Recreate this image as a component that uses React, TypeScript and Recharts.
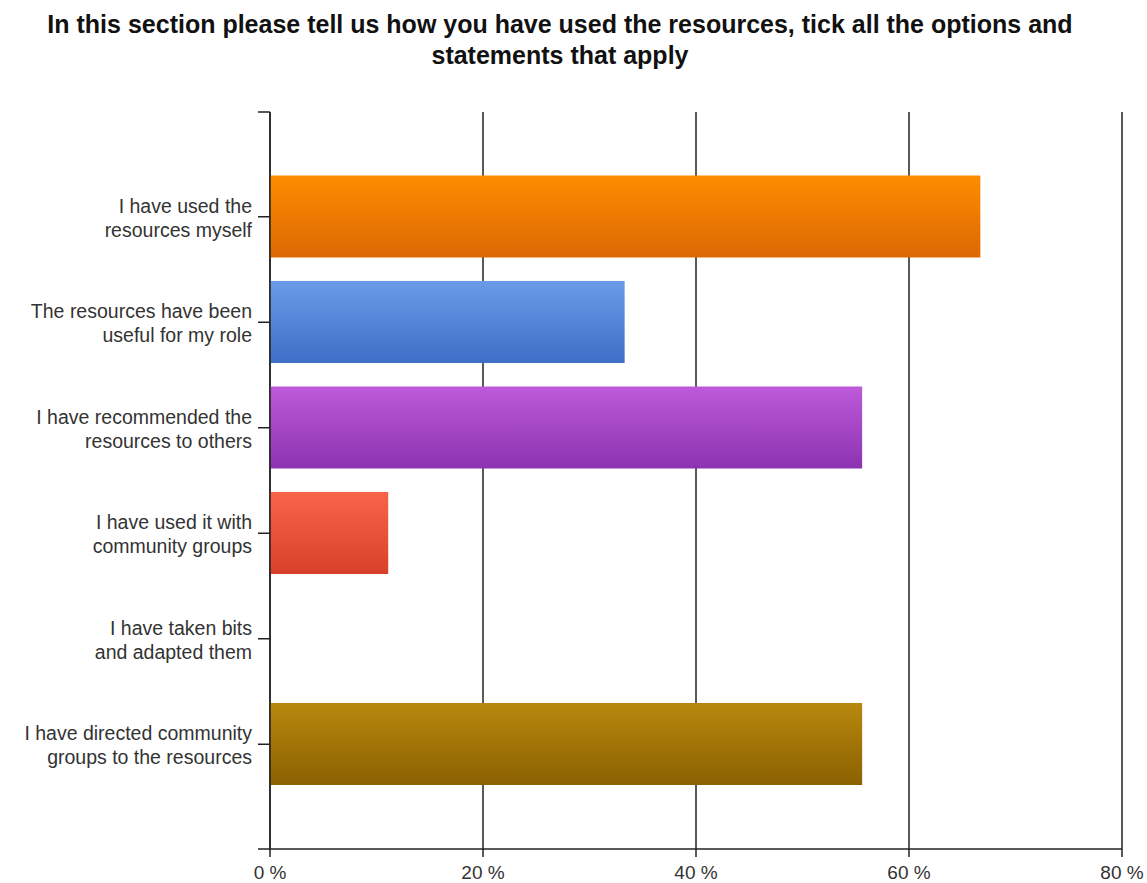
import React from "react";
import * as R from "recharts";
import { BarChart, Bar, XAxis, YAxis, CartesianGrid, Cell } from "recharts";

const title = [
  "In this section please tell us how you have used the resources, tick all the options and",
  "statements that apply",
];

const categories = [
  "I have used the\nresources myself",
  "The resources have been\nuseful for my role",
  "I have recommended the\nresources to others",
  "I have used it with\ncommunity groups",
  "I have taken bits\nand adapted them",
  "I have directed community\ngroups to the resources",
];

const percents = [66.7, 33.3, 55.6, 11.1, 0, 55.6];

const xTicks = [0, 20, 40, 60, 80];

// top / bottom colour of each bar gradient
const barColors = [
  ["#fd8d00", "#dc6804"],
  ["#6a9be8", "#3e6ec6"],
  ["#bd5ad9", "#8c33b0"],
  ["#f8644a", "#d8402a"],
  ["#b8880e", "#8a6100"],
  ["#b8880e", "#8a6100"],
];

const data = categories.map((name, i) => ({ name, value: percents[i] }));

const FONT = "'Liberation Sans', Arial, sans-serif";

function CategoryTick(props: any) {
  const { x, y, payload } = props;
  const lines = String(payload.value).split("\n");
  return (
    <text x={x} y={y} textAnchor="end" fill="#333" fontSize={19.5} fontFamily={FONT}>
      {lines.map((l, i) => (
        <tspan key={i} x={x} dy={i === 0 ? -4 : 24}>
          {l}
        </tspan>
      ))}
    </text>
  );
}

// small end ticks left of the value axis, top and bottom of the plot
const usePlot: any = (R as any).usePlotArea || (R as any).useOffset || (() => null);

function AxisEnds() {
  const area = usePlot();
  if (!area) return null;
  const x = area.x ?? area.left;
  const top = area.y ?? area.top;
  const h = area.height;
  if (x == null || top == null || h == null) return null;
  return (
    <g stroke="#222" strokeWidth={1.5}>
      <line x1={x - 12} x2={x} y1={top} y2={top} />
      <line x1={x - 12} x2={x} y1={top + h} y2={top + h} />
    </g>
  );
}

export default function App() {
  return (
    <div style={{ position: "absolute", left: 0, top: 0, width: 1147, height: 883, background: "#fff" }}>
      <div
        style={{
          position: "absolute",
          left: 0,
          top: 9,
          width: 1120,
          textAlign: "center",
          fontFamily: FONT,
          fontWeight: "bold",
          fontSize: 25,
          lineHeight: "31px",
          color: "#111",
        }}
      >
        {title.map((t, i) => (
          <div key={i}>{t}</div>
        ))}
      </div>
      <div style={{ position: "absolute", left: 0, top: 0 }}>
        <BarChart
          width={1147}
          height={883}
          data={data}
          layout="vertical"
          margin={{ top: 112, right: 25, bottom: 4, left: 0 }}
          barCategoryGap="11%"
        >
          <defs>
            {barColors.map((c, i) => (
              <linearGradient key={i} id={`bar${i}`} x1="0" y1="0" x2="0" y2="1">
                <stop offset="0%" stopColor={c[0]} />
                <stop offset="100%" stopColor={c[1]} />
              </linearGradient>
            ))}
          </defs>
          <CartesianGrid horizontal={false} stroke="#222" strokeWidth={1.5} />
          <XAxis
            type="number"
            domain={[0, 80]}
            ticks={xTicks}
            interval={0}
            tickFormatter={(v) => `${v} %`}
            axisLine={{ stroke: "#222", strokeWidth: 1.5 }}
            tickLine={{ stroke: "#222", strokeWidth: 1.5 }}
            tickSize={8}
            tickMargin={9}
            height={30}
            tick={{ fill: "#333", fontSize: 19, fontFamily: FONT }}
          />
          <YAxis
            type="category"
            dataKey="name"
            width={270}
            padding={{ top: 52, bottom: 52 }}
            axisLine={{ stroke: "#222", strokeWidth: 1.5 }}
            tickLine={{ stroke: "#222", strokeWidth: 1.5 }}
            tickSize={12}
            tickMargin={6}
            interval={0}
            tick={<CategoryTick />}
          />
          <Bar dataKey="value" isAnimationActive={false}>
            {data.map((_, i) => (
              <Cell key={i} fill={`url(#bar${i})`} />
            ))}
          </Bar>
          <AxisEnds />
        </BarChart>
      </div>
    </div>
  );
}
